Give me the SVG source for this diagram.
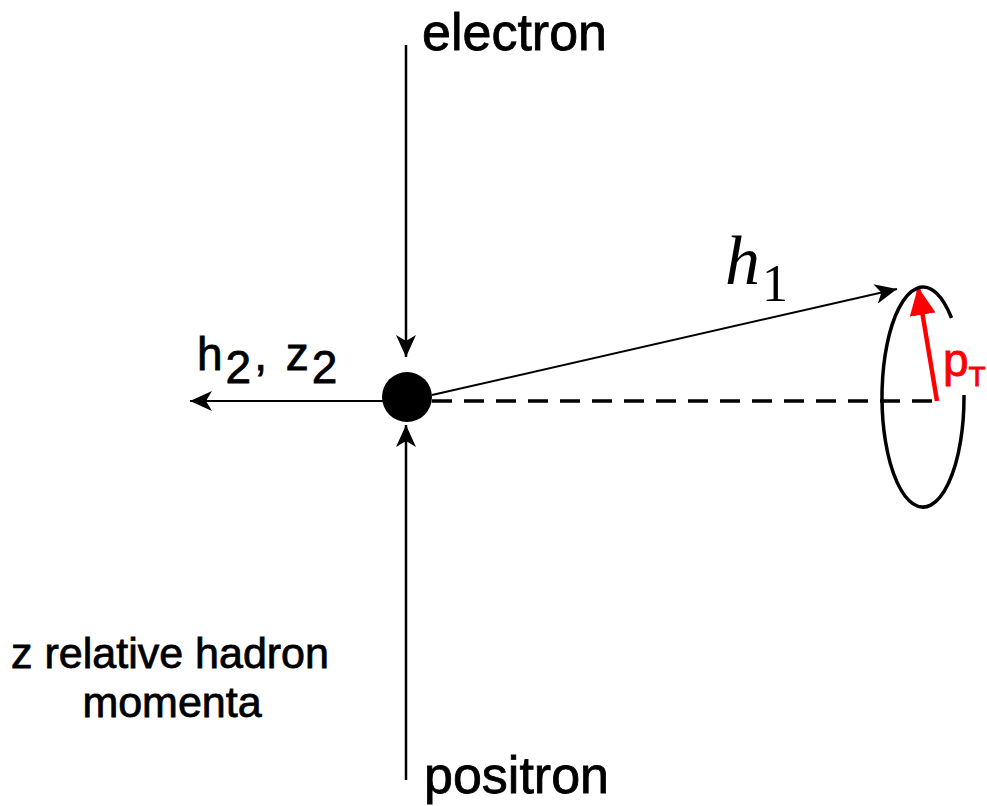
<svg xmlns="http://www.w3.org/2000/svg" width="987" height="806" viewBox="0 0 987 806">
<defs>
<style>
.lbl{font-family:"Liberation Sans",Arial,sans-serif;fill:#000;stroke:#000;stroke-width:0.8}
.ln{stroke:#000;fill:none}
</style>
<marker id="ahb" markerWidth="22" markerHeight="20" refX="22" refY="10" orient="auto" markerUnits="userSpaceOnUse" viewBox="0 0 22 20">
<path d="M0,0 L22,10 L0,20 L6,10 z" fill="#000"/>
</marker>
<marker id="ahr" markerWidth="28" markerHeight="26" refX="28" refY="13" orient="auto" markerUnits="userSpaceOnUse" viewBox="0 0 28 26">
<path d="M0,0 L28,13 L0,26 z" fill="#f00"/>
</marker>
</defs>
<g id="connectors">
<line class="ln" x1="406" y1="45" x2="406" y2="357" stroke-width="2.5" marker-end="url(#ahb)"/>
<line class="ln" x1="406" y1="780" x2="406" y2="425" stroke-width="2.5" marker-end="url(#ahb)"/>
<line class="ln" x1="383" y1="401" x2="190" y2="401" stroke-width="2" marker-end="url(#ahb)"/>
<line class="ln" x1="432" y1="395" x2="897" y2="289" stroke-width="2" marker-end="url(#ahb)"/>
<line class="ln" x1="432" y1="401" x2="938" y2="401" stroke-width="3.5" stroke-dasharray="20 12"/>
<line x1="937" y1="401" x2="918" y2="287" stroke="#f00" stroke-width="4.5" marker-end="url(#ahr)"/>
</g>
<g id="vertex">
<circle cx="407" cy="397" r="25" fill="#000"/>
</g>
<g id="cone">
<path class="ln" d="M964,395 A41,110 0 1 1 951.5,318" stroke-width="3.5"/>
</g>
<g id="electron"><text class="lbl" x="422" y="50" font-size="52">electron</text></g>
<g id="positron"><text class="lbl" x="424" y="793" font-size="52">positron</text></g>
<g id="h2"><text class="lbl" x="197" y="370" font-size="46" letter-spacing="3">h<tspan dy="13">2</tspan><tspan dy="-13">, z</tspan><tspan dy="13">2</tspan></text></g>
<g id="h1"><text x="725" y="284" font-size="70" font-family="Liberation Serif, Times New Roman, serif" font-style="italic">h</text><text x="762" y="301" font-size="52" font-family="Liberation Serif, Times New Roman, serif">1</text></g>
<g id="pt"><text x="943" y="376" font-size="46" fill="#f00" stroke="#f00" stroke-width="0.8" font-family="Liberation Sans,Arial,sans-serif">p<tspan dy="10" font-size="28">T</tspan></text></g>
<g id="note"><text class="lbl" x="170" y="668" font-size="43" text-anchor="middle">z relative hadron</text><text class="lbl" x="172" y="717" font-size="43" text-anchor="middle">momenta</text></g>
</svg>
